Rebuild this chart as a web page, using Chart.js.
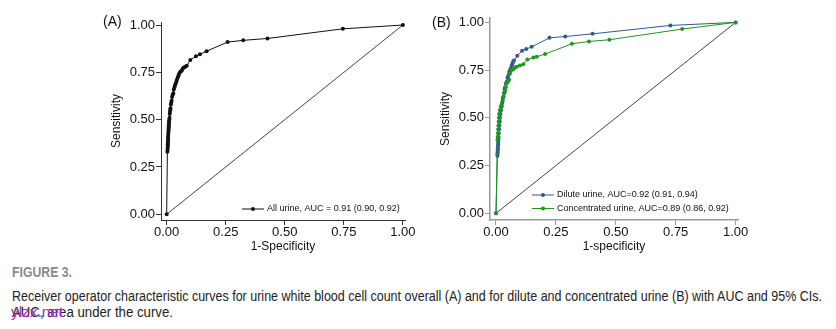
<!DOCTYPE html>
<html>
<head>
<meta charset="utf-8">
<script src="https://cdn.jsdelivr.net/npm/chart.js@4.4.1/dist/chart.umd.min.js"></script>
<style>
  body { margin: 0; background: #fff; width: 836px; height: 329px; position: relative; overflow: hidden; }
  canvas { position: absolute; top: 0; }
  #rocA { left: 0; }
  #rocB { left: 420px; }
  .panel-tag { position: absolute; font: 14px "Liberation Sans", Arial, sans-serif; color: #111; }
  .caption { position: absolute; left: 12px; font-family: "Liberation Sans", Arial, sans-serif; white-space: nowrap; transform-origin: 0 0; }
  #figLabel { top: 264px; font-size: 14px; font-weight: bold; color: #8a8a8a; }
  #capLine1 { top: 288px; font-size: 14px; color: #222; }
  #capLine2 { top: 304px; font-size: 14px; color: #222; }
  #mark { position: absolute; left: 11px; top: 304px; font: 14px "Liberation Sans", sans-serif; color: #9b30c8; transform-origin: 0 0; }
</style>
</head>
<body>
<canvas id="rocA" width="420" height="255"></canvas>
<canvas id="rocB" width="345" height="255"></canvas>
<div class="panel-tag" style="left:103px;top:13px;">(A)</div>
<div class="panel-tag" style="left:432px;top:14px;">(B)</div>
<div class="caption" id="figLabel">FIGURE 3.</div>
<div class="caption" id="capLine1">Receiver operator characteristic curves for urine white blood cell count overall (A) and for dilute and concentrated urine (B) with AUC and 95% CIs.</div>
<div class="caption" id="capLine2">AUC, area under the curve.</div>
<div id="mark">ylzx.net</div>
<script>
// ROC points as [1-specificity, sensitivity]
const allUrineRoc = [
  [0, 0], [0.003, 0.33], [0.004, 0.34], [0.004, 0.35], [0.005, 0.36], [0.005, 0.37],
  [0.005, 0.38], [0.006, 0.39], [0.006, 0.40], [0.006, 0.41], [0.007, 0.42], [0.007, 0.43],
  [0.008, 0.44], [0.008, 0.45], [0.009, 0.46], [0.009, 0.47], [0.010, 0.48], [0.010, 0.49],
  [0.011, 0.50], [0.012, 0.51], [0.013, 0.53], [0.014, 0.54], [0.015, 0.55], [0.016, 0.56],
  [0.018, 0.58], [0.019, 0.59], [0.021, 0.60], [0.023, 0.62], [0.025, 0.63], [0.028, 0.64],
  [0.030, 0.66], [0.033, 0.67], [0.035, 0.68], [0.038, 0.69], [0.041, 0.70], [0.043, 0.71],
  [0.046, 0.72], [0.049, 0.73], [0.052, 0.74], [0.056, 0.75], [0.060, 0.755], [0.064, 0.76],
  [0.068, 0.77], [0.073, 0.775], [0.079, 0.78], [0.085, 0.785], [0.100, 0.815], [0.124, 0.835],
  [0.141, 0.845], [0.169, 0.862], [0.258, 0.91], [0.324, 0.919], [0.427, 0.929], [0.746, 0.98],
  [1, 1]
];

const diluteRoc = [
  [0, 0], [0.006, 0.30], [0.006, 0.31], [0.007, 0.32], [0.007, 0.33], [0.008, 0.34],
  [0.008, 0.35], [0.009, 0.36], [0.009, 0.37], [0.010, 0.38], [0.010, 0.39], [0.011, 0.40],
  [0.012, 0.42], [0.013, 0.44], [0.014, 0.46], [0.016, 0.48], [0.017, 0.50], [0.019, 0.52],
  [0.021, 0.54], [0.024, 0.56], [0.026, 0.58], [0.028, 0.60], [0.031, 0.61], [0.033, 0.63],
  [0.036, 0.65], [0.038, 0.66], [0.041, 0.68], [0.045, 0.69], [0.048, 0.71], [0.052, 0.725],
  [0.055, 0.74], [0.059, 0.75], [0.062, 0.76], [0.066, 0.775], [0.069, 0.785], [0.072, 0.795],
  [0.075, 0.80], [0.089, 0.825], [0.109, 0.851], [0.126, 0.86], [0.149, 0.872], [0.223, 0.919],
  [0.289, 0.926], [0.403, 0.94], [0.728, 0.984], [1, 1]
];

const concentratedRoc = [
  [0, 0], [0.006, 0.385], [0.007, 0.40], [0.008, 0.42], [0.009, 0.44], [0.010, 0.46],
  [0.011, 0.48], [0.012, 0.50], [0.013, 0.52], [0.016, 0.54], [0.020, 0.56], [0.024, 0.57],
  [0.028, 0.59], [0.031, 0.61], [0.035, 0.63], [0.038, 0.64], [0.041, 0.66], [0.045, 0.68],
  [0.050, 0.69], [0.055, 0.70], [0.059, 0.734], [0.066, 0.751], [0.072, 0.755], [0.079, 0.764],
  [0.087, 0.768], [0.100, 0.774], [0.114, 0.781], [0.131, 0.805], [0.156, 0.816], [0.170, 0.820],
  [0.205, 0.834], [0.317, 0.888], [0.388, 0.900], [0.473, 0.909], [0.777, 0.965], [1, 1]
];

const chanceLine = [[0, 0], [1, 1]];
const tickValues = [0, 0.25, 0.5, 0.75, 1];

const legendA = ['All urine, AUC = 0.91 (0.90, 0.92)'];
const legendB = ['Dilute urine, AUC=0.92 (0.91, 0.94)', 'Concentrated urine, AUC=0.89 (0.86, 0.92)'];

const FONT = '"Liberation Sans", Arial, sans-serif';
const toXY = pts => pts.map(p => ({ x: p[0], y: p[1] }));

function rocSeries(label, pts, color, order) {
  return {
    label, data: toXY(pts), showLine: true,
    borderColor: color, backgroundColor: color, borderWidth: 1,
    pointRadius: 2, pointHoverRadius: 2, pointBorderWidth: 0, order
  };
}

function chanceSeries() {
  return {
    label: 'chance', data: toXY(chanceLine), showLine: true,
    borderColor: '#444', borderWidth: 1, pointRadius: 0, order: 10
  };
}

function axes(o) {
  const fixTicks = s => { s.ticks = tickValues.map(v => ({ value: v })); };
  const tickFont = { family: FONT, size: 13 };
  const titleFont = { family: FONT, size: 12 };
  return {
    x: {
      type: 'linear', min: o.xMin, max: o.xMax,
      afterBuildTicks: fixTicks,
      afterFit: s => { s.height = 35; },
      grid: { drawOnChartArea: false, tickLength: 5, color: o.axisColor },
      border: { color: o.axisColor, width: o.axisWidth },
      ticks: { padding: 0, color: '#111', font: tickFont, callback: v => v.toFixed(2) },
      title: { display: true, text: o.xTitle, color: '#111', font: titleFont, padding: { top: 0, bottom: 1 } }
    },
    y: {
      type: 'linear', min: o.yMin, max: o.yMax,
      afterBuildTicks: fixTicks,
      afterFit: s => { s.width = 56; },
      grid: { drawOnChartArea: false, tickLength: 5, color: o.axisColor },
      border: { color: o.axisColor, width: o.axisWidth },
      ticks: { padding: 1, color: '#111', font: tickFont, callback: v => v.toFixed(2) },
      title: { display: true, text: 'Sensitivity', color: '#111', font: titleFont, padding: { top: 4, bottom: 0 } }
    }
  };
}

// small legend drawn inside the plot, anchored to the lower right corner
function insideLegend(labels, dx, dy) {
  return {
    id: 'insideLegend',
    afterDatasetsDraw(chart) {
      const { ctx, chartArea } = chart;
      ctx.save();
      ctx.font = '9px ' + FONT;
      ctx.textBaseline = 'middle';
      labels.forEach((text, i) => {
        const ds = chart.data.datasets[i];
        const x = chartArea.right - dx;
        const y = chartArea.bottom - dy + i * 13.5;
        ctx.strokeStyle = ds.borderColor;
        ctx.lineWidth = 1;
        ctx.beginPath();
        ctx.moveTo(x, y);
        ctx.lineTo(x + 22, y);
        ctx.stroke();
        ctx.fillStyle = ds.borderColor;
        ctx.beginPath();
        ctx.arc(x + 11, y, 2, 0, Math.PI * 2);
        ctx.fill();
        ctx.fillStyle = '#111';
        ctx.fillText(text, x + 25, y);
      });
      ctx.restore();
    }
  };
}

const baseOptions = {
  responsive: false,
  animation: false,
  plugins: { legend: { display: false }, tooltip: { enabled: false } }
};

new Chart(document.getElementById('rocA'), {
  type: 'scatter',
  data: {
    datasets: [
      rocSeries('All urine', allUrineRoc, '#111', 1),
      chanceSeries()
    ]
  },
  options: {
    ...baseOptions,
    layout: { padding: { left: 105, right: 15, top: 22, bottom: 0 } },
    scales: axes({ xMin: -0.024, xMax: 1.009, yMin: -0.03, yMax: 1.016, xTitle: '1-Specificity', axisColor: '#333', axisWidth: 1 })
  },
  plugins: [insideLegend(legendA, 163, 11)]
});

new Chart(document.getElementById('rocB'), {
  type: 'scatter',
  data: {
    datasets: [
      rocSeries('Dilute urine', diluteRoc, '#2f5a8c', 2),
      rocSeries('Concentrated urine', concentratedRoc, '#1f961f', 1),
      chanceSeries()
    ]
  },
  options: {
    ...baseOptions,
    layout: { padding: { left: 14, right: 27, top: 18, bottom: 0 } },
    scales: axes({ xMin: -0.025, xMax: 1.01, yMin: -0.035, yMax: 1.023, xTitle: '1-specificity', axisColor: '#999', axisWidth: 1.5 })
  },
  plugins: [insideLegend(legendB, 206, 25)]
});

// squeeze caption lines horizontally to the narrow typeface widths
function squeeze(id, width) {
  const el = document.getElementById(id);
  el.style.transform = 'scaleX(' + (width / el.getBoundingClientRect().width) + ')';
}
squeeze('capLine1', 810);
squeeze('capLine2', 161);
squeeze('figLabel', 60);
squeeze('mark', 52);
</script>
</body>
</html>
